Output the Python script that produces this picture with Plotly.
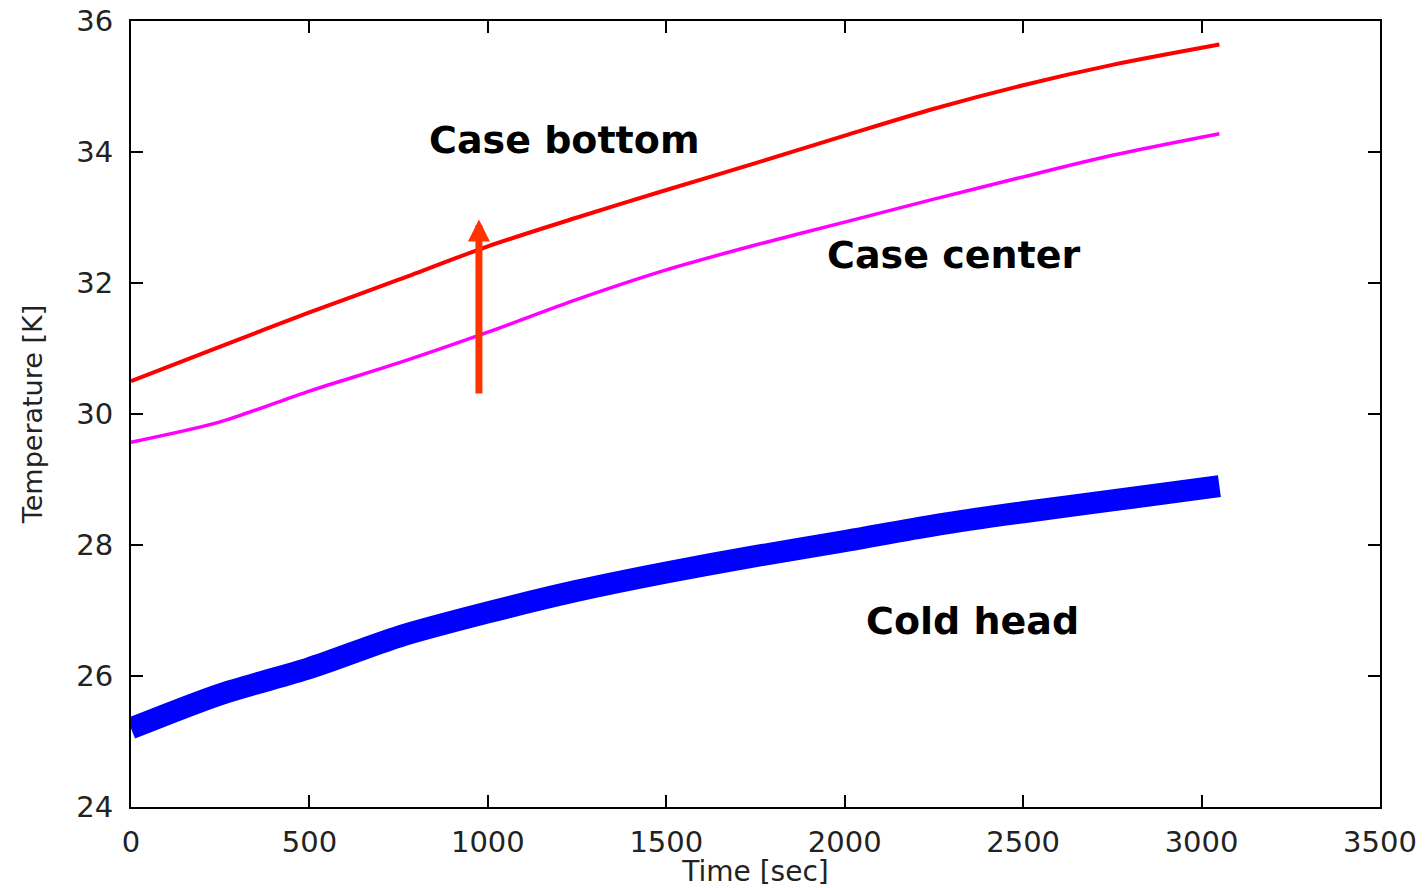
import plotly.graph_objects as go

# ---- data ----
time_s = [0, 250, 500, 750, 1000, 1250, 1500, 1750, 2000, 2250, 2500, 2750, 3050]
case_bottom = [30.50, 31.03, 31.55, 32.05, 32.56, 33.00, 33.42, 33.83, 34.25, 34.66, 35.02, 35.33, 35.64]
case_center = [29.57, 29.88, 30.35, 30.78, 31.25, 31.75, 32.20, 32.58, 32.93, 33.28, 33.62, 33.95, 34.28]
cold_head = [25.20, 25.72, 26.12, 26.60, 26.97, 27.30, 27.58, 27.83, 28.06, 28.30, 28.50, 28.68, 28.90]

x_ticks = [0, 500, 1000, 1500, 2000, 2500, 3000, 3500]
y_ticks = [24, 26, 28, 30, 32, 34, 36]

labels = ["Case bottom", "Case center", "Cold head"]
label_x = [1216, 2306, 2359]
label_y = [34.19, 32.42, 26.84]

arrow_x = 975
arrow_from = 30.29
arrow_to = 32.97

fig = go.Figure()
fig.add_trace(go.Scatter(x=time_s, y=cold_head, mode="lines",
                         line=dict(color="#0000FF", width=22, shape="spline", smoothing=0.8), name="Cold head"))
fig.add_trace(go.Scatter(x=time_s, y=case_center, mode="lines",
                         line=dict(color="#FF00FF", width=3.5, shape="spline", smoothing=0.8), name="Case center"))
fig.add_trace(go.Scatter(x=time_s, y=case_bottom, mode="lines",
                         line=dict(color="#FF0000", width=4, shape="spline", smoothing=0.8), name="Case bottom"))

for t, lx, ly in zip(labels, label_x, label_y):
    fig.add_annotation(x=lx, y=ly, text=t, showarrow=False, xanchor="center", yanchor="middle",
                       font=dict(family="DejaVu Sans", size=38, color="#000000", weight="bold"))

fig.add_annotation(x=arrow_x, y=arrow_to, ax=arrow_x, ay=arrow_from, axref="x", ayref="y",
                   xref="x", yref="y", text="", showarrow=True, arrowhead=2, arrowsize=0.63,
                   arrowwidth=7, arrowcolor="#FF3300", standoff=0)

axis_common = dict(showline=True, linecolor="#000000", linewidth=2, mirror="ticks", ticks="inside",
                   ticklen=12, tickwidth=2, tickcolor="#000000", showgrid=False, zeroline=False,
                   tickfont=dict(family="DejaVu Sans", size=29, color="#222222"))

fig.update_xaxes(range=[0, 3500], tickvals=x_ticks, ticktext=[str(v) for v in x_ticks],
                 title=dict(text="Time [sec]", font=dict(family="DejaVu Sans", size=28, color="#222222"), standoff=6),
                 ticklabelstandoff=8, **axis_common)
fig.update_yaxes(range=[24, 36], tickvals=y_ticks, ticktext=[str(v) for v in y_ticks],
                 title=dict(text="Temperature [K]", font=dict(family="DejaVu Sans", size=27, color="#222222"), standoff=26),
                 ticklabelstandoff=10, **axis_common)

fig.update_layout(template="none", width=1428, height=888, showlegend=False,
                  margin=dict(l=131, r=48, t=21, b=81),
                  paper_bgcolor="#FFFFFF", plot_bgcolor="#FFFFFF")

fig.write_html("out.html")
